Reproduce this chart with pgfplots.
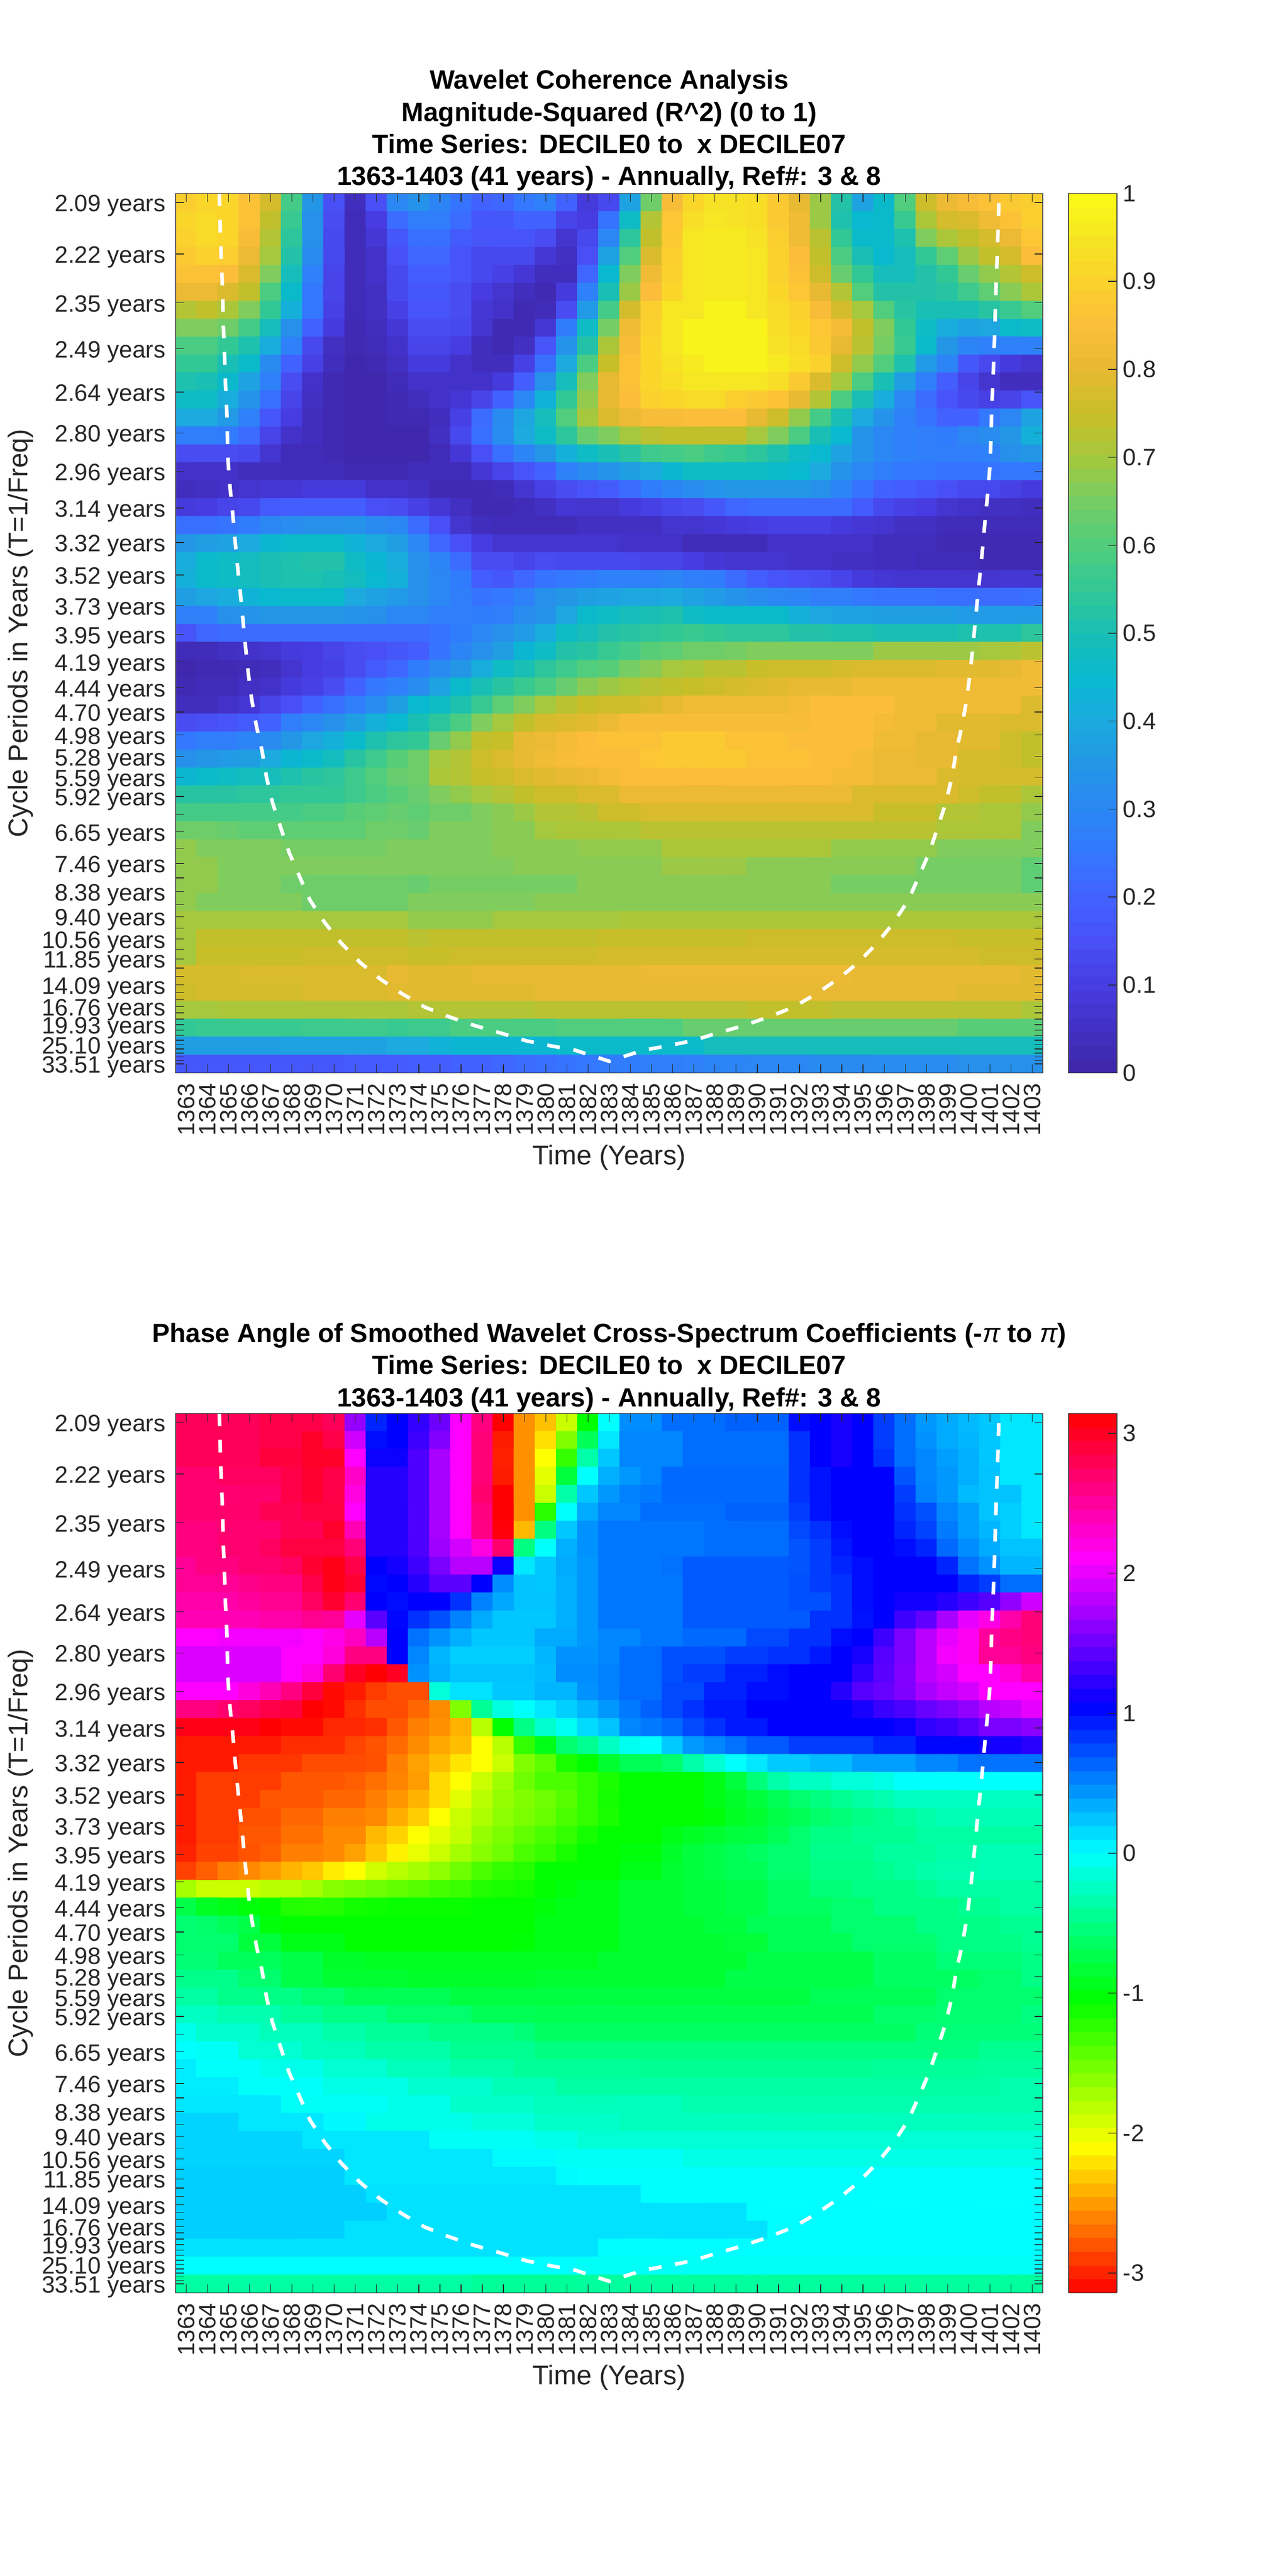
\documentclass[border=0pt]{standalone}
\usepackage{fontspec}
\setmainfont{Liberation Sans}
\usepackage{pgfplots}
\pgfplotsset{compat=1.18}
\definecolor{txt}{rgb}{0.15,0.15,0.15}
\pgfplotsset{
 waveaxis/.style={
  scale only axis,width=505.2pt,height=512.3pt,anchor=south west,
  xmin=1362.5,xmax=1403.5,ymin=-49.5,ymax=-0.5,axis on top,
  tick align=inside,xtick pos=both,ytick pos=both,
  major tick length=5pt,
  tick style={color=txt,line width=0.4pt},
  axis line style={color=black!72,line width=0.5pt},
  xtick={1363,1364,1365,1366,1367,1368,1369,1370,1371,1372,1373,1374,1375,1376,1377,1378,1379,1380,1381,1382,1383,1384,1385,1386,1387,1388,1389,1390,1391,1392,1393,1394,1395,1396,1397,1398,1399,1400,1401,1402,1403},
  xticklabels={1363,1364,1365,1366,1367,1368,1369,1370,1371,1372,1373,1374,1375,1376,1377,1378,1379,1380,1381,1382,1383,1384,1385,1386,1387,1388,1389,1390,1391,1392,1393,1394,1395,1396,1397,1398,1399,1400,1401,1402,1403},
  ytick={-1,-3.874,-6.586,-9.146,-11.563,-13.844,-15.996,-18.028,-19.946,-21.756,-23.465,-25.078,-26.6,-28.037,-29.393,-30.673,-31.881,-33.022,-34.098,-35.114,-36.073,-36.978,-37.833,-38.639,-39.4,-40.118,-40.797,-41.437,-42.04,-42.611,-43.149,-43.657,-44.137,-44.589,-45.016,-45.42,-45.8,-46.159,-46.498,-46.818,-47.12,-47.406,-47.674,-47.928,-48.168,-48.394,-48.608,-48.81,-49},
  yticklabels={2.09 years,2.22 years,2.35 years,2.49 years,2.64 years,2.80 years,2.96 years,3.14 years,3.32 years,3.52 years,3.73 years,3.95 years,4.19 years,4.44 years,4.70 years,4.98 years,5.28 years,5.59 years,5.92 years,{},6.65 years,{},7.46 years,{},8.38 years,{},9.40 years,{},10.56 years,{},11.85 years,{},{},14.09 years,{},{},16.76 years,{},{},19.93 years,{},{},{},25.10 years,{},{},{},{},33.51 years},
  x tick label style={rotate=90,anchor=east,font=\fontsize{13.8}{14}\selectfont,text=txt,inner sep=0pt,outer sep=0pt},
  y tick label style={font=\fontsize{13.8}{14}\selectfont,text=txt,inner sep=0pt,outer sep=0pt,yshift=-1.9pt},
  xticklabel shift=6pt,yticklabel shift=5.8pt,
  xlabel={Time (Years)},ylabel={Cycle Periods in Years (T=1/Freq)},
  label style={font=\fontsize{15.8}{16}\selectfont,text=txt},
  every axis x label/.append style={at={(axis description cs:0.5,-0.0965)},anchor=center},
  every axis y label/.append style={at={(axis description cs:-0.1786,0.5)},anchor=center},
 },
 cbarstyle/.style={
  at={(parent axis.north east)},anchor=north west,xshift=6.5pt,width=28.1pt,
  samples=65,
  tick align=inside,ytick pos=right,major tick length=5pt,
  tick style={color=txt,line width=0.4pt},
  axis line style={color=black!72,line width=0.5pt},
  y tick label style={font=\fontsize{13.8}{14}\selectfont,text=txt},
  yticklabel shift=0pt,
 },
 coi/.style={white,line width=2.1pt,dash pattern=on 7.4pt off 8pt,no marks},
 cell1/.style={matrix plot*,mesh/cols=41,mesh/rows=49,point meta={\thisrowno{0}/100}},
}
\newcommand{\coicoords}{(1364.57,-0.5)(1364.61,-2.29)(1364.65,-3.75)(1364.70,-5.22)(1364.74,-6.73)(1364.77,-8.15)(1364.82,-9.6)(1364.86,-11.07)(1364.92,-12.54)(1364.95,-14.01)(1364.99,-15.52)(1365.08,-16.92)(1365.21,-18.44)(1365.32,-19.91)(1365.44,-21.37)(1365.57,-22.83)(1365.69,-24.3)(1365.81,-25.77)(1365.94,-27.23)(1366.10,-28.68)(1366.32,-30.15)(1366.59,-31.55)(1366.80,-33.02)(1367.08,-34.42)(1367.49,-35.9)(1367.87,-37.22)(1368.36,-38.55)(1368.86,-39.88)(1369.57,-41.15)(1370.35,-42.29)(1371.23,-43.35)(1372.18,-44.27)(1373.21,-45.09)(1374.28,-45.83)(1375.45,-46.38)(1376.64,-46.86)(1377.85,-47.27)(1379.08,-47.71)(1380.28,-48.0)(1381.41,-48.24)(1383,-48.85)(1384.59,-48.24)(1385.72,-48)(1386.92,-47.71)(1388.15,-47.27)(1389.36,-46.86)(1390.55,-46.38)(1391.72,-45.83)(1392.79,-45.09)(1393.82,-44.27)(1394.77,-43.35)(1395.65,-42.29)(1396.43,-41.15)(1397.14,-39.88)(1397.64,-38.55)(1398.13,-37.22)(1398.51,-35.9)(1398.92,-34.42)(1399.2,-33.02)(1399.41,-31.55)(1399.68,-30.15)(1399.9,-28.68)(1400.06,-27.23)(1400.19,-25.77)(1400.31,-24.3)(1400.43,-22.83)(1400.56,-21.37)(1400.68,-19.91)(1400.79,-18.44)(1400.92,-16.92)(1401.01,-15.52)(1401.05,-14.01)(1401.08,-12.54)(1401.14,-11.07)(1401.18,-9.6)(1401.23,-8.15)(1401.26,-6.73)(1401.3,-5.22)(1401.35,-3.75)(1401.39,-2.29)(1401.43,-0.5)}
\begin{document}
\begin{tikzpicture}
\path[use as bounding box] (0,0) rectangle (750pt,1500.48pt);
\begin{axis}[waveaxis,at={(102.24pt,875.5pt)},
 colormap={parula}{rgb255=(62,38,168) rgb255=(66,48,195) rgb255=(70,60,225) rgb255=(72,80,245) rgb255=(66,98,255) rgb255=(51,120,255) rgb255=(43,135,243) rgb255=(35,150,230) rgb255=(28,170,223) rgb255=(8,185,208) rgb255=(25,190,180) rgb255=(50,200,150) rgb255=(80,205,125) rgb255=(118,205,100) rgb255=(165,200,62) rgb255=(200,190,40) rgb255=(232,185,50) rgb255=(252,190,58) rgb255=(251,210,45) rgb255=(246,230,35) rgb255=(249,251,21)},
 point meta min=0,point meta max=1,
 colorbar sampled,
 colorbar style={cbarstyle,ytick={0,0.1,0.2,0.3,0.4,0.5,0.6,0.7,0.8,0.9,1},yticklabels={0,0.1,0.2,0.3,0.4,0.5,0.6,0.7,0.8,0.9,1}},
]
\addplot[cell1] table[row sep=\\,header=false,x expr={1363+\coordindex-41*floor((\coordindex+0.5)/41)},y expr={-1-floor((\coordindex+0.5)/41)}]{
89\\91\\91\\86\\77\\58\\35\\15\\4\\15\\30\\34\\29\\24\\20\\21\\25\\28\\20\\9\\13\\38\\64\\84\\91\\94\\94\\93\\88\\80\\69\\52\\38\\46\\60\\76\\81\\84\\86\\88\\89\\
91\\92\\91\\86\\74\\56\\33\\14\\3\\10\\22\\27\\27\\22\\17\\17\\20\\20\\12\\10\\24\\47\\72\\87\\93\\95\\94\\93\\88\\82\\69\\51\\45\\46\\56\\71\\77\\78\\82\\86\\89\\
90\\92\\91\\84\\72\\54\\33\\13\\3\\8\\17\\23\\23\\18\\16\\16\\16\\14\\7\\13\\30\\54\\74\\88\\95\\96\\96\\94\\89\\82\\73\\55\\46\\46\\51\\66\\71\\74\\77\\81\\87\\
88\\90\\89\\81\\70\\52\\31\\13\\3\\6\\15\\21\\21\\16\\13\\13\\13\\8\\5\\15\\38\\60\\78\\89\\95\\96\\96\\95\\90\\85\\74\\59\\50\\45\\49\\55\\62\\69\\74\\77\\85\\
86\\86\\85\\78\\66\\49\\28\\12\\3\\6\\13\\19\\19\\16\\13\\11\\8\\4\\4\\21\\45\\66\\82\\90\\95\\96\\96\\95\\90\\86\\76\\63\\55\\49\\49\\52\\55\\63\\68\\72\\76\\
81\\81\\78\\74\\59\\46\\25\\12\\3\\5\\13\\17\\17\\14\\10\\7\\4\\2\\9\\28\\50\\69\\85\\91\\95\\96\\96\\95\\91\\87\\80\\72\\60\\52\\52\\52\\53\\57\\62\\67\\71\\
72\\74\\71\\66\\55\\42\\25\\11\\3\\5\\11\\16\\16\\14\\8\\6\\2\\3\\14\\36\\58\\77\\89\\95\\95\\98\\98\\95\\92\\90\\84\\77\\70\\60\\53\\50\\50\\50\\53\\56\\60\\
66\\66\\64\\58\\49\\33\\20\\9\\2\\4\\8\\14\\14\\13\\7\\2\\2\\8\\26\\47\\65\\82\\90\\95\\98\\98\\98\\98\\93\\91\\87\\83\\74\\66\\55\\47\\41\\38\\39\\46\\47\\
59\\59\\55\\51\\41\\28\\13\\5\\2\\3\\6\\12\\12\\10\\4\\2\\5\\16\\34\\52\\71\\84\\91\\95\\98\\98\\98\\98\\94\\92\\88\\80\\73\\65\\56\\46\\35\\29\\28\\28\\28\\
55\\55\\50\\46\\31\\20\\11\\4\\1\\2\\5\\9\\9\\6\\4\\4\\11\\23\\40\\59\\75\\86\\91\\94\\96\\98\\98\\98\\96\\93\\90\\76\\68\\60\\51\\36\\29\\17\\13\\9\\7\\
51\\50\\46\\38\\28\\14\\6\\2\\1\\1\\3\\6\\6\\6\\6\\9\\19\\33\\49\\66\\80\\86\\91\\93\\95\\95\\95\\95\\93\\88\\78\\70\\59\\50\\37\\27\\19\\12\\7\\4\\4\\
47\\47\\41\\34\\23\\12\\5\\2\\1\\1\\2\\4\\6\\8\\12\\20\\30\\43\\55\\68\\80\\85\\90\\91\\92\\92\\89\\88\\86\\80\\72\\59\\50\\41\\30\\22\\16\\13\\11\\12\\16\\
40\\40\\36\\28\\17\\10\\4\\2\\1\\1\\2\\2\\4\\11\\22\\31\\39\\49\\60\\70\\78\\81\\84\\84\\85\\85\\85\\80\\76\\68\\58\\50\\40\\34\\28\\24\\20\\20\\25\\30\\38\\
27\\27\\26\\22\\12\\6\\4\\2\\1\\1\\1\\1\\5\\13\\23\\32\\40\\47\\54\\63\\66\\70\\73\\74\\74\\74\\74\\70\\66\\59\\50\\45\\34\\30\\28\\27\\26\\30\\32\\35\\42\\
14\\14\\14\\13\\7\\3\\3\\2\\1\\1\\1\\1\\3\\8\\15\\23\\29\\35\\42\\47\\50\\53\\57\\58\\59\\57\\56\\54\\51\\47\\45\\38\\34\\30\\28\\27\\27\\27\\28\\33\\35\\
6\\6\\6\\4\\4\\3\\3\\3\\2\\2\\2\\3\\3\\3\\8\\12\\16\\20\\28\\31\\34\\37\\40\\44\\47\\47\\47\\47\\46\\45\\40\\34\\30\\27\\25\\25\\24\\24\\24\\25\\25\\
4\\5\\6\\7\\8\\8\\9\\9\\9\\6\\6\\5\\2\\2\\2\\3\\7\\11\\14\\16\\18\\22\\26\\29\\32\\34\\35\\35\\35\\35\\33\\29\\24\\20\\19\\17\\15\\13\\13\\11\\9\\
9\\10\\12\\13\\18\\19\\19\\19\\19\\15\\14\\11\\8\\5\\2\\2\\3\\5\\8\\7\\7\\9\\11\\13\\14\\17\\21\\22\\22\\22\\22\\22\\18\\13\\11\\10\\7\\6\\5\\5\\4\\
23\\23\\24\\26\\30\\32\\33\\33\\34\\31\\30\\22\\15\\7\\4\\3\\3\\3\\3\\5\\5\\5\\5\\7\\7\\8\\9\\10\\11\\11\\11\\9\\8\\7\\5\\5\\3\\3\\3\\3\\3\\
35\\37\\38\\40\\44\\46\\46\\46\\43\\40\\37\\30\\21\\15\\10\\7\\7\\7\\7\\7\\7\\6\\6\\6\\3\\3\\3\\3\\6\\6\\6\\6\\6\\4\\4\\4\\2\\2\\2\\2\\2\\
41\\46\\47\\48\\50\\51\\52\\52\\47\\44\\41\\33\\29\\22\\14\\14\\12\\14\\13\\13\\13\\13\\12\\12\\10\\8\\7\\7\\7\\6\\6\\5\\5\\4\\4\\3\\3\\3\\2\\2\\2\\
42\\46\\47\\48\\50\\51\\51\\50\\48\\45\\42\\33\\30\\26\\19\\17\\21\\24\\25\\26\\28\\28\\28\\29\\27\\26\\22\\19\\16\\15\\14\\12\\9\\8\\7\\7\\7\\7\\7\\8\\8\\
37\\39\\41\\43\\45\\46\\46\\46\\40\\38\\36\\33\\30\\27\\24\\25\\28\\33\\35\\37\\38\\39\\39\\40\\38\\36\\34\\32\\30\\29\\27\\27\\25\\24\\24\\24\\23\\23\\22\\22\\23\\
28\\28\\33\\34\\35\\35\\35\\35\\34\\33\\30\\30\\27\\27\\26\\27\\32\\34\\39\\46\\47\\49\\50\\51\\47\\46\\46\\46\\46\\42\\39\\38\\38\\37\\37\\37\\37\\36\\36\\36\\36\\
16\\21\\22\\22\\22\\22\\22\\22\\22\\22\\22\\22\\24\\26\\30\\33\\36\\41\\47\\49\\52\\53\\54\\55\\56\\55\\54\\54\\54\\52\\52\\51\\51\\50\\50\\50\\50\\51\\51\\51\\54\\
3\\3\\5\\6\\7\\9\\10\\12\\14\\15\\17\\19\\24\\29\\33\\37\\44\\47\\52\\53\\56\\58\\61\\62\\64\\64\\65\\66\\66\\66\\66\\66\\66\\69\\69\\69\\69\\69\\70\\71\\73\\
1\\2\\2\\3\\4\\7\\10\\11\\14\\18\\21\\26\\31\\35\\41\\47\\50\\54\\57\\60\\61\\65\\67\\70\\71\\73\\73\\75\\76\\76\\76\\77\\78\\78\\78\\78\\79\\79\\79\\80\\82\\
2\\3\\3\\5\\6\\9\\11\\14\\20\\25\\28\\32\\38\\46\\50\\53\\56\\59\\63\\67\\69\\71\\73\\74\\75\\76\\77\\78\\79\\80\\80\\80\\82\\82\\82\\82\\82\\82\\82\\82\\82\\
4\\4\\6\\8\\12\\15\\20\\23\\27\\32\\37\\45\\47\\51\\56\\62\\66\\70\\73\\75\\76\\76\\78\\80\\82\\82\\82\\82\\82\\83\\85\\85\\85\\85\\82\\82\\82\\82\\82\\82\\78\\
14\\15\\16\\18\\20\\27\\30\\33\\37\\42\\45\\50\\54\\59\\66\\70\\74\\77\\78\\79\\81\\84\\84\\84\\84\\84\\84\\84\\84\\84\\85\\85\\85\\83\\82\\82\\79\\79\\79\\78\\78\\
25\\27\\27\\29\\31\\35\\39\\42\\46\\51\\54\\55\\63\\68\\74\\75\\80\\81\\83\\85\\86\\86\\86\\88\\88\\88\\86\\86\\86\\85\\85\\85\\85\\82\\82\\80\\80\\79\\79\\76\\74\\
33\\35\\36\\37\\40\\44\\46\\48\\53\\57\\61\\64\\70\\72\\76\\78\\80\\82\\84\\85\\85\\85\\87\\88\\88\\88\\88\\86\\86\\86\\85\\85\\83\\81\\81\\80\\80\\77\\77\\76\\74\\
44\\46\\47\\48\\49\\51\\53\\54\\57\\60\\63\\64\\71\\72\\75\\76\\78\\79\\80\\81\\83\\85\\85\\85\\85\\85\\85\\85\\85\\85\\85\\83\\83\\81\\81\\81\\78\\77\\77\\77\\77\\
53\\53\\53\\54\\54\\55\\55\\55\\57\\59\\61\\63\\66\\68\\70\\72\\74\\76\\76\\78\\78\\81\\81\\81\\81\\81\\81\\81\\81\\81\\81\\81\\78\\78\\78\\78\\78\\76\\74\\74\\71\\
58\\58\\58\\58\\58\\58\\59\\59\\61\\62\\63\\62\\64\\64\\66\\67\\69\\72\\72\\73\\76\\76\\78\\78\\78\\78\\78\\78\\78\\78\\78\\78\\78\\75\\75\\75\\72\\72\\71\\71\\68\\
64\\64\\63\\62\\62\\62\\62\\62\\62\\64\\64\\63\\66\\66\\66\\67\\67\\70\\71\\71\\71\\71\\73\\73\\73\\73\\73\\73\\73\\73\\73\\73\\73\\73\\73\\73\\71\\71\\71\\71\\66\\
68\\66\\66\\66\\66\\65\\65\\65\\65\\65\\66\\66\\66\\66\\66\\67\\67\\67\\67\\68\\68\\68\\68\\71\\71\\71\\71\\71\\71\\71\\71\\68\\68\\68\\68\\68\\66\\66\\66\\66\\66\\
68\\68\\66\\66\\66\\66\\66\\66\\66\\66\\66\\66\\66\\66\\66\\66\\67\\67\\67\\67\\67\\67\\67\\69\\69\\69\\69\\67\\67\\67\\67\\67\\67\\67\\67\\65\\65\\65\\65\\65\\62\\
68\\68\\66\\66\\66\\64\\64\\64\\64\\64\\64\\63\\65\\65\\65\\65\\65\\65\\65\\67\\67\\67\\67\\67\\67\\67\\67\\67\\67\\67\\67\\65\\65\\65\\65\\65\\65\\65\\65\\65\\62\\
68\\66\\66\\66\\66\\66\\64\\64\\64\\64\\64\\66\\66\\66\\66\\66\\66\\67\\67\\67\\67\\67\\67\\67\\67\\67\\67\\67\\67\\67\\67\\67\\67\\67\\67\\67\\67\\67\\67\\67\\67\\
70\\70\\70\\70\\70\\70\\70\\70\\70\\70\\70\\68\\68\\68\\68\\70\\70\\70\\70\\70\\70\\71\\71\\71\\71\\71\\71\\71\\71\\71\\71\\71\\71\\71\\71\\71\\71\\71\\71\\71\\71\\
70\\74\\74\\74\\74\\74\\74\\74\\74\\74\\74\\73\\74\\74\\74\\74\\74\\74\\74\\74\\75\\75\\75\\75\\75\\75\\75\\76\\76\\76\\76\\76\\76\\76\\76\\76\\76\\75\\75\\75\\75\\
70\\75\\75\\75\\75\\75\\76\\76\\76\\76\\76\\75\\75\\76\\76\\76\\76\\76\\76\\76\\77\\77\\77\\77\\77\\77\\77\\77\\77\\77\\77\\77\\77\\77\\77\\77\\77\\77\\76\\76\\76\\
77\\77\\77\\78\\78\\78\\78\\78\\78\\78\\80\\79\\79\\79\\80\\80\\80\\80\\80\\80\\80\\80\\81\\81\\81\\81\\81\\81\\81\\81\\81\\81\\80\\80\\80\\80\\80\\80\\80\\80\\79\\
76\\77\\77\\77\\77\\77\\78\\78\\78\\78\\79\\79\\79\\79\\79\\79\\79\\80\\80\\80\\80\\80\\80\\80\\80\\80\\80\\80\\80\\80\\80\\80\\80\\80\\80\\80\\80\\79\\79\\79\\79\\
70\\70\\71\\71\\71\\71\\71\\71\\71\\71\\71\\72\\72\\72\\72\\72\\72\\73\\73\\73\\73\\73\\73\\73\\73\\73\\73\\74\\74\\74\\74\\73\\73\\73\\73\\73\\73\\73\\73\\73\\71\\
55\\56\\56\\56\\56\\56\\57\\57\\57\\57\\56\\57\\57\\59\\59\\59\\59\\59\\60\\60\\60\\60\\60\\60\\63\\63\\63\\63\\63\\63\\63\\63\\63\\63\\63\\63\\63\\61\\61\\61\\61\\
37\\37\\37\\37\\37\\38\\38\\38\\38\\38\\40\\40\\43\\44\\44\\44\\44\\44\\46\\46\\46\\46\\46\\46\\46\\49\\49\\49\\49\\49\\49\\49\\49\\49\\49\\49\\49\\49\\49\\49\\49\\
17\\17\\17\\17\\17\\17\\17\\17\\18\\18\\18\\19\\19\\20\\20\\21\\22\\23\\24\\25\\26\\26\\27\\27\\28\\29\\29\\30\\30\\30\\31\\31\\31\\32\\32\\32\\32\\33\\33\\33\\33\\
};
\addplot[coi] coordinates {\coicoords};
\end{axis}
\begin{axis}[waveaxis,at={(102.24pt,164.9pt)},
 colormap={hsvmat}{rgb=(1,0,0) rgb=(1,1,0) rgb=(0,1,0) rgb=(0,1,1) rgb=(0,0,1) rgb=(1,0,1) rgb=(1,0,0)},
 point meta min=-3.14159,point meta max=3.14159,
 colorbar sampled,
 colorbar style={cbarstyle,ytick={-3,-2,-1,0,1,2,3},yticklabels={-3,-2,-1,0,1,2,3}},
]
\addplot[cell1] table[row sep=\\,header=false,x expr={1363+\coordindex-41*floor((\coordindex+0.5)/41)},y expr={-1-floor((\coordindex+0.5)/41)}]{
278\\278\\278\\278\\285\\285\\285\\278\\166\\90\\105\\125\\150\\209\\262\\314\\-255\\-235\\-187\\-105\\0\\47\\47\\60\\60\\60\\65\\65\\65\\100\\105\\115\\105\\80\\60\\43\\35\\29\\23\\10\\10\\
278\\278\\278\\278\\285\\285\\298\\285\\190\\100\\105\\130\\158\\209\\265\\-303\\-255\\-222\\-157\\-68\\10\\50\\50\\50\\60\\60\\60\\60\\60\\85\\105\\115\\105\\80\\60\\45\\35\\30\\23\\10\\10\\
278\\278\\278\\278\\290\\290\\298\\298\\209\\110\\110\\137\\175\\209\\265\\-301\\-255\\-209\\-126\\-35\\23\\50\\50\\50\\60\\60\\60\\60\\60\\85\\105\\115\\105\\85\\60\\50\\40\\33\\23\\10\\10\\
268\\268\\275\\275\\275\\285\\295\\285\\232\\120\\120\\137\\175\\209\\265\\-303\\-255\\-198\\-80\\0\\33\\43\\50\\62\\62\\62\\62\\62\\62\\85\\98\\105\\105\\105\\70\\50\\43\\33\\25\\10\\10\\
268\\268\\268\\270\\270\\285\\295\\285\\222\\120\\120\\137\\175\\209\\270\\314\\-255\\-187\\-35\\23\\43\\52\\55\\62\\62\\62\\62\\62\\62\\85\\98\\105\\105\\105\\80\\52\\43\\28\\25\\25\\10\\
268\\268\\270\\270\\280\\280\\288\\288\\209\\120\\120\\137\\175\\209\\262\\314\\-255\\-122\\0\\35\\50\\50\\60\\60\\60\\60\\65\\65\\65\\80\\98\\105\\105\\105\\85\\72\\50\\40\\25\\20\\10\\
262\\262\\268\\268\\268\\280\\280\\296\\240\\120\\120\\137\\175\\209\\260\\310\\-238\\-52\\23\\45\\56\\56\\56\\56\\56\\60\\60\\60\\60\\75\\85\\100\\105\\105\\90\\78\\55\\40\\30\\20\\10\\
262\\262\\268\\268\\275\\288\\288\\288\\265\\120\\120\\137\\170\\192\\222\\270\\-52\\0\\33\\45\\56\\56\\56\\56\\56\\60\\60\\60\\60\\70\\80\\95\\105\\105\\100\\90\\62\\47\\35\\25\\25\\
253\\262\\262\\268\\268\\275\\295\\305\\285\\105\\113\\130\\155\\180\\180\\110\\10\\23\\35\\43\\56\\56\\56\\58\\68\\68\\68\\68\\68\\70\\80\\90\\100\\105\\105\\105\\90\\58\\45\\30\\30\\
253\\253\\253\\258\\262\\262\\285\\305\\294\\102\\105\\120\\142\\142\\105\\47\\25\\23\\33\\43\\56\\56\\56\\56\\68\\68\\68\\68\\68\\72\\80\\85\\100\\105\\105\\105\\105\\90\\80\\60\\60\\
245\\245\\245\\250\\255\\255\\275\\295\\268\\105\\100\\105\\105\\85\\52\\36\\25\\25\\33\\43\\56\\56\\56\\56\\68\\68\\68\\68\\68\\72\\72\\85\\100\\105\\112\\112\\120\\130\\140\\165\\190\\
240\\240\\240\\240\\245\\245\\255\\253\\200\\142\\103\\85\\72\\52\\35\\23\\23\\23\\33\\43\\56\\56\\56\\56\\68\\68\\68\\68\\68\\68\\85\\85\\98\\105\\130\\145\\175\\200\\220\\245\\265\\
209\\209\\205\\205\\205\\205\\209\\220\\235\\180\\105\\58\\45\\33\\23\\23\\23\\35\\35\\43\\50\\50\\56\\56\\62\\62\\62\\75\\75\\85\\85\\100\\105\\130\\155\\180\\200\\215\\250\\260\\265\\
195\\195\\195\\195\\195\\209\\209\\225\\262\\262\\105\\50\\30\\20\\20\\20\\20\\30\\45\\45\\50\\60\\60\\72\\72\\72\\80\\80\\85\\85\\95\\105\\115\\140\\155\\180\\205\\215\\253\\253\\262\\
195\\195\\195\\195\\195\\209\\222\\268\\300\\314\\300\\45\\33\\25\\25\\25\\25\\28\\47\\47\\52\\60\\60\\72\\80\\80\\92\\92\\100\\105\\105\\105\\125\\142\\158\\182\\192\\209\\209\\225\\245\\
209\\209\\209\\225\\240\\262\\290\\-310\\-303\\-290\\-282\\-282\\-15\\12\\12\\23\\23\\30\\30\\45\\52\\60\\60\\75\\75\\92\\92\\100\\100\\105\\105\\120\\140\\147\\157\\175\\185\\192\\209\\209\\209\\
262\\262\\270\\275\\285\\290\\314\\-310\\-295\\-283\\-283\\-272\\-257\\-157\\-43\\-12\\0\\10\\20\\30\\43\\55\\65\\75\\85\\95\\95\\105\\105\\105\\105\\105\\115\\128\\135\\147\\155\\165\\180\\188\\200\\
305\\305\\305\\305\\314\\-310\\-310\\-298\\-298\\-295\\-278\\-262\\-255\\-241\\-180\\-105\\-50\\-20\\-5\\15\\25\\50\\55\\62\\75\\85\\95\\95\\105\\105\\105\\105\\105\\105\\110\\125\\130\\140\\155\\155\\162\\
-304\\-304\\-304\\-304\\-304\\-296\\-296\\-296\\-286\\-280\\-270\\-257\\-245\\-236\\-209\\-180\\-125\\-95\\-60\\-45\\-25\\-6\\0\\22\\42\\50\\58\\68\\68\\80\\80\\80\\80\\90\\90\\103\\103\\103\\113\\113\\122\\
-304\\-304\\-304\\-292\\-292\\-292\\-283\\-283\\-283\\-281\\-262\\-248\\-237\\-220\\-209\\-187\\-157\\-143\\-115\\-105\\-85\\-70\\-70\\-60\\-35\\-18\\0\\10\\22\\22\\28\\28\\40\\40\\40\\50\\50\\58\\58\\58\\58\\
-303\\-290\\-290\\-290\\-290\\-279\\-279\\-279\\-275\\-268\\-260\\-250\\-225\\-209\\-187\\-170\\-150\\-135\\-135\\-125\\-115\\-105\\-105\\-105\\-105\\-95\\-80\\-55\\-35\\-25\\-25\\-15\\-15\\-10\\0\\0\\0\\0\\0\\0\\0\\
-303\\-290\\-290\\-290\\-279\\-279\\-279\\-272\\-272\\-262\\-253\\-241\\-225\\-197\\-180\\-165\\-157\\-150\\-140\\-125\\-113\\-105\\-105\\-105\\-105\\-95\\-88\\-80\\-70\\-60\\-52\\-45\\-38\\-32\\-25\\-25\\-25\\-25\\-25\\-25\\-25\\
-303\\-290\\-290\\-281\\-281\\-272\\-272\\-262\\-262\\-258\\-243\\-230\\-209\\-187\\-175\\-162\\-155\\-147\\-135\\-125\\-115\\-105\\-105\\-105\\-105\\-100\\-90\\-85\\-75\\-70\\-62\\-55\\-50\\-45\\-40\\-35\\-30\\-30\\-30\\-30\\-30\\
-303\\-290\\-290\\-278\\-278\\-268\\-268\\-258\\-258\\-238\\-228\\-209\\-197\\-185\\-165\\-155\\-145\\-135\\-125\\-113\\-105\\-105\\-105\\-95\\-90\\-85\\-80\\-78\\-70\\-60\\-50\\-50\\-45\\-45\\-45\\-38\\-38\\-38\\-38\\-38\\-38\\
-300\\-287\\-287\\-280\\-275\\-262\\-262\\-258\\-248\\-232\\-215\\-200\\-187\\-172\\-160\\-150\\-135\\-127\\-115\\-105\\-105\\-100\\-100\\-88\\-80\\-75\\-70\\-65\\-60\\-60\\-48\\-48\\-48\\-40\\-40\\-40\\-35\\-35\\-30\\-30\\-30\\
-288\\-275\\-262\\-258\\-250\\-240\\-232\\-217\\-209\\-190\\-180\\-172\\-163\\-150\\-135\\-125\\-120\\-105\\-105\\-105\\-105\\-95\\-95\\-85\\-80\\-75\\-70\\-70\\-60\\-60\\-50\\-50\\-50\\-45\\-40\\-35\\-32\\-32\\-30\\-30\\-30\\
-172\\-187\\-187\\-187\\-180\\-180\\-172\\-160\\-155\\-150\\-145\\-140\\-132\\-128\\-118\\-115\\-112\\-105\\-100\\-95\\-95\\-85\\-85\\-85\\-80\\-80\\-75\\-75\\-65\\-65\\-55\\-55\\-50\\-50\\-50\\-45\\-38\\-38\\-38\\-38\\-38\\
-75\\-90\\-95\\-100\\-105\\-118\\-120\\-118\\-112\\-110\\-108\\-108\\-108\\-108\\-105\\-105\\-105\\-100\\-95\\-95\\-95\\-85\\-85\\-85\\-80\\-80\\-75\\-75\\-65\\-65\\-65\\-60\\-60\\-50\\-50\\-50\\-50\\-45\\-45\\-38\\-38\\
-58\\-62\\-68\\-75\\-100\\-105\\-105\\-105\\-105\\-105\\-105\\-105\\-105\\-105\\-105\\-105\\-105\\-95\\-95\\-95\\-95\\-85\\-85\\-85\\-85\\-80\\-80\\-70\\-70\\-70\\-70\\-60\\-60\\-60\\-60\\-50\\-50\\-50\\-50\\-45\\-45\\
-60\\-60\\-60\\-80\\-80\\-95\\-95\\-95\\-105\\-105\\-105\\-105\\-105\\-105\\-105\\-105\\-103\\-95\\-95\\-95\\-95\\-85\\-85\\-85\\-85\\-85\\-82\\-82\\-70\\-70\\-70\\-70\\-60\\-60\\-60\\-60\\-50\\-50\\-50\\-50\\-45\\
-57\\-57\\-67\\-67\\-67\\-75\\-75\\-88\\-88\\-92\\-92\\-92\\-92\\-92\\-92\\-92\\-92\\-92\\-92\\-92\\-85\\-85\\-85\\-85\\-85\\-85\\-85\\-75\\-75\\-75\\-75\\-75\\-75\\-65\\-65\\-65\\-55\\-55\\-55\\-55\\-50\\
-48\\-48\\-48\\-60\\-60\\-75\\-75\\-85\\-85\\-85\\-85\\-88\\-88\\-88\\-88\\-88\\-88\\-85\\-85\\-85\\-85\\-85\\-85\\-85\\-85\\-85\\-75\\-75\\-75\\-75\\-75\\-75\\-75\\-65\\-65\\-65\\-65\\-65\\-60\\-60\\-50\\
-38\\-38\\-48\\-48\\-50\\-50\\-60\\-60\\-70\\-70\\-70\\-70\\-70\\-78\\-78\\-78\\-78\\-78\\-78\\-78\\-78\\-78\\-78\\-78\\-78\\-78\\-78\\-78\\-78\\-78\\-70\\-70\\-70\\-70\\-70\\-70\\-60\\-60\\-60\\-60\\-60\\
-25\\-25\\-32\\-32\\-32\\-42\\-42\\-50\\-50\\-50\\-60\\-60\\-60\\-60\\-70\\-70\\-70\\-72\\-72\\-72\\-72\\-72\\-72\\-72\\-72\\-72\\-72\\-72\\-72\\-72\\-72\\-72\\-72\\-62\\-62\\-62\\-58\\-58\\-58\\-58\\-52\\
-8\\-20\\-20\\-20\\-28\\-28\\-28\\-35\\-35\\-42\\-42\\-42\\-50\\-50\\-50\\-50\\-55\\-65\\-65\\-65\\-65\\-65\\-65\\-65\\-65\\-65\\-65\\-65\\-65\\-65\\-65\\-65\\-65\\-65\\-65\\-55\\-55\\-55\\-55\\-55\\-55\\
0\\-3\\-3\\-18\\-18\\-18\\-27\\-27\\-27\\-35\\-35\\-35\\-35\\-45\\-45\\-45\\-45\\-52\\-52\\-52\\-52\\-52\\-52\\-52\\-52\\-52\\-52\\-52\\-52\\-52\\-52\\-52\\-52\\-52\\-52\\-52\\-52\\-52\\-45\\-45\\-45\\
8\\-2\\-2\\-2\\-8\\-8\\-8\\-18\\-18\\-18\\-28\\-28\\-28\\-35\\-35\\-35\\-42\\-42\\-42\\-42\\-42\\-42\\-45\\-45\\-45\\-45\\-45\\-45\\-45\\-45\\-45\\-45\\-45\\-42\\-42\\-42\\-42\\-42\\-40\\-40\\-40\\
8\\8\\8\\-2\\-2\\-2\\-2\\-10\\-10\\-10\\-10\\-20\\-20\\-20\\-20\\-30\\-30\\-30\\-38\\-38\\-38\\-38\\-38\\-38\\-38\\-38\\-38\\-38\\-38\\-38\\-38\\-38\\-38\\-38\\-38\\-38\\-38\\-38\\-38\\-33\\-33\\
10\\10\\10\\10\\10\\-3\\-3\\-3\\-3\\-3\\-8\\-8\\-8\\-22\\-22\\-22\\-22\\-28\\-28\\-28\\-28\\-28\\-28\\-28\\-33\\-33\\-33\\-33\\-33\\-33\\-33\\-33\\-33\\-33\\-33\\-33\\-33\\-33\\-33\\-33\\-33\\
18\\18\\18\\10\\10\\10\\10\\3\\3\\-8\\-8\\-8\\-8\\-8\\-15\\-15\\-15\\-22\\-22\\-22\\-22\\-27\\-27\\-27\\-27\\-27\\-27\\-27\\-27\\-27\\-27\\-27\\-27\\-27\\-27\\-27\\-27\\-27\\-27\\-27\\-27\\
18\\18\\18\\18\\18\\18\\10\\10\\10\\10\\10\\10\\-3\\-3\\-3\\-3\\-3\\-8\\-8\\-17\\-17\\-17\\-17\\-17\\-17\\-17\\-17\\-17\\-17\\-17\\-17\\-17\\-17\\-17\\-17\\-17\\-17\\-17\\-17\\-17\\-17\\
18\\18\\18\\18\\18\\18\\18\\18\\10\\10\\10\\10\\10\\10\\10\\2\\2\\2\\-3\\-3\\-3\\-3\\-3\\-3\\-10\\-10\\-10\\-10\\-10\\-10\\-10\\-10\\-10\\-10\\-10\\-10\\-10\\-10\\-10\\-10\\-10\\
20\\20\\20\\20\\20\\20\\20\\20\\10\\10\\10\\10\\10\\10\\10\\10\\10\\10\\2\\0\\0\\0\\0\\0\\0\\0\\0\\0\\0\\0\\0\\0\\0\\0\\0\\0\\0\\0\\0\\0\\0\\
20\\20\\20\\20\\20\\20\\20\\20\\20\\12\\12\\12\\12\\12\\12\\12\\12\\12\\12\\12\\12\\12\\0\\0\\0\\0\\0\\0\\0\\0\\0\\0\\0\\0\\0\\0\\0\\0\\0\\0\\0\\
20\\20\\20\\20\\20\\20\\20\\20\\20\\20\\12\\12\\12\\12\\12\\12\\12\\12\\12\\12\\12\\12\\12\\12\\12\\12\\12\\1\\1\\1\\1\\1\\1\\1\\1\\1\\1\\1\\1\\1\\1\\
20\\20\\20\\20\\20\\20\\20\\20\\12\\12\\12\\12\\12\\12\\12\\12\\12\\12\\12\\12\\12\\12\\12\\12\\12\\12\\12\\12\\1\\1\\1\\1\\1\\1\\1\\1\\1\\1\\1\\1\\1\\
12\\12\\12\\12\\12\\12\\12\\12\\12\\12\\12\\12\\12\\12\\12\\12\\12\\12\\12\\12\\1\\1\\1\\1\\1\\1\\1\\1\\1\\1\\1\\1\\1\\1\\1\\1\\1\\1\\1\\1\\1\\
1\\1\\1\\1\\1\\1\\1\\1\\1\\1\\1\\1\\1\\1\\1\\1\\1\\1\\1\\-3\\-3\\-3\\-3\\-3\\-3\\-3\\-3\\-3\\-3\\-3\\-3\\-3\\-3\\-3\\-3\\-3\\-3\\-3\\-3\\-3\\-3\\
-38\\-38\\-38\\-38\\-38\\-38\\-38\\-38\\-38\\-38\\-38\\-38\\-38\\-38\\-42\\-42\\-42\\-42\\-42\\-40\\-40\\-40\\-40\\-40\\-40\\-40\\-40\\-40\\-40\\-40\\-40\\-40\\-40\\-40\\-40\\-40\\-40\\-40\\-40\\-40\\-40\\
};
\addplot[coi] coordinates {\coicoords};
\end{axis}
\def\tf{\bfseries\fontsize{15.4}{18.7}\selectfont}
\node[anchor=base,font=\tf] at (354.84pt,1448.6pt) {Wavelet Coherence Analysis};
\node[anchor=base,font=\tf] at (354.84pt,1429.9pt) {Magnitude-Squared (R\textasciicircum 2) (0 to 1)};
\node[anchor=base,font=\tf] at (354.84pt,1411.2pt) {Time Series: DECILE0 to\ \ x DECILE07};
\node[anchor=base,font=\tf] at (354.84pt,1392.5pt) {1363-1403 (41 years) - Annually, Ref\#: 3 \& 8};
\node[anchor=base,font=\tf] at (354.84pt,718.6pt) {Phase Angle of Smoothed Wavelet Cross-Spectrum Coefficients (-{\mdseries\itshape π} to {\mdseries\itshape π})};
\node[anchor=base,font=\tf] at (354.84pt,699.9pt) {Time Series: DECILE0 to\ \ x DECILE07};
\node[anchor=base,font=\tf] at (354.84pt,681.2pt) {1363-1403 (41 years) - Annually, Ref\#: 3 \& 8};
\end{tikzpicture}
\end{document}
